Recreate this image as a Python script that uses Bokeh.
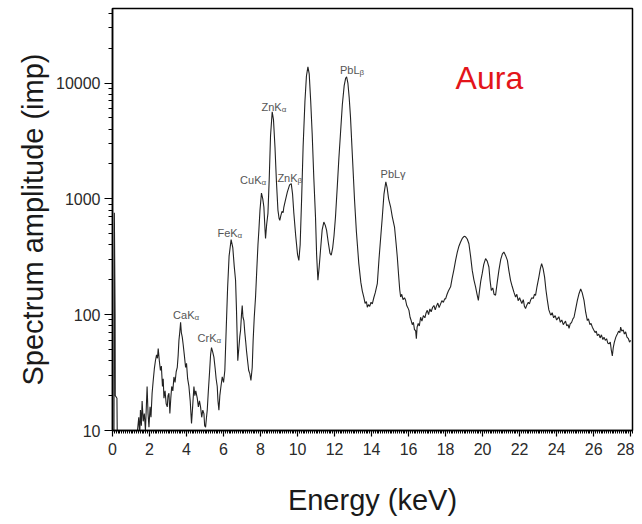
from bokeh.plotting import figure
from bokeh.models import Range1d, FixedTicker, NumeralTickFormatter, ColumnDataSource
from bokeh.core.properties import value
from bokeh.embed import file_html
from bokeh.resources import INLINE

# ---- spectrum data (energy keV, counts) ----
energy = [0.0, 0.08, 0.1, 0.14, 0.15, 0.24, 0.26, 1.3,
          1.35, 1.42, 1.47, 1.51, 1.56, 1.6, 1.66, 1.72, 1.78, 1.87, 1.92, 1.97, 2.03, 2.08, 2.14, 2.2, 2.26, 2.32,
          2.38, 2.43, 2.47, 2.53, 2.59, 2.64, 2.7, 2.74, 2.78, 2.84, 2.9, 2.96, 3.0, 3.05, 3.1, 3.15, 3.2, 3.26,
          3.32, 3.38, 3.44, 3.5, 3.55, 3.59, 3.64, 3.68, 3.72, 3.77, 3.82, 3.88, 3.95, 4.0, 4.06, 4.13, 4.2, 4.27,
          4.33, 4.4, 4.45, 4.5, 4.58, 4.64, 4.7, 4.76, 4.82, 4.88, 4.94, 4.98, 5.03, 5.08, 5.12, 5.18, 5.24, 5.3,
          5.35, 5.41, 5.48, 5.55, 5.6, 5.66, 5.7, 5.75, 5.8, 5.86, 5.93, 6.0, 6.07, 6.15, 6.22, 6.3, 6.41, 6.5,
          6.58, 6.65, 6.7, 6.77, 6.82, 6.88, 6.92, 6.97, 7.01, 7.05, 7.1, 7.15, 7.2, 7.24, 7.3, 7.36, 7.42, 7.48,
          7.55, 7.6, 7.66, 7.73, 7.8, 7.86, 7.91, 7.97, 8.05, 8.12, 8.18, 8.24, 8.27, 8.33, 8.4, 8.47, 8.54, 8.63,
          8.7, 8.78, 8.86, 8.94, 9.0, 9.04, 9.1, 9.16, 9.22, 9.26, 9.33, 9.45, 9.57, 9.66, 9.73, 9.8, 9.9, 10.0,
          10.07, 10.14, 10.22, 10.3, 10.4, 10.48, 10.56, 10.63, 10.71, 10.79, 10.88, 10.97, 11.03, 11.1, 11.17,
          11.24, 11.33, 11.42, 11.5, 11.57, 11.66, 11.75, 11.82, 11.9, 11.97, 12.05, 12.15, 12.23, 12.32, 12.42,
          12.52, 12.6, 12.65, 12.72, 12.79, 12.86, 12.96, 13.08, 13.18, 13.31, 13.42, 13.5, 13.58, 13.65, 13.72,
          13.77, 13.83, 13.9, 13.97, 14.04, 14.12, 14.2, 14.31, 14.4, 14.5, 14.58, 14.67, 14.77, 14.84, 14.92,
          15.03, 15.12, 15.24, 15.32, 15.39, 15.46, 15.52, 15.57, 15.63, 15.7, 15.78, 15.84, 15.9, 15.96, 16.02,
          16.08, 16.14, 16.2, 16.26, 16.32, 16.38, 16.42, 16.46, 16.52, 16.58, 16.65, 16.72, 16.8, 16.88, 16.95,
          17.01, 17.08, 17.15, 17.22, 17.3, 17.37, 17.44, 17.5, 17.58, 17.65, 17.73, 17.8, 17.88, 17.95, 18.0,
          18.08, 18.15, 18.22, 18.27, 18.35, 18.45, 18.54, 18.63, 18.72, 18.81, 18.9, 19.0, 19.08, 19.17, 19.26,
          19.35, 19.44, 19.53, 19.62, 19.7, 19.77, 19.83, 19.9, 19.98, 20.06, 20.16, 20.25, 20.34, 20.4, 20.47,
          20.55, 20.62, 20.7, 20.79, 20.88, 20.98, 21.07, 21.15, 21.24, 21.34, 21.42, 21.51, 21.6, 21.7, 21.78,
          21.85, 21.92, 22.0, 22.05, 22.12, 22.2, 22.26, 22.32, 22.4, 22.47, 22.53, 22.59, 22.66, 22.74, 22.8,
          22.86, 22.94, 23.04, 23.12, 23.19, 23.27, 23.35, 23.42, 23.5, 23.58, 23.68, 23.76, 23.84, 23.92, 24.0,
          24.04, 24.12, 24.2, 24.28, 24.36, 24.4, 24.48, 24.55, 24.62, 24.67, 24.74, 24.8, 24.88, 24.94, 25.03,
          25.12, 25.2, 25.3, 25.38, 25.48, 25.57, 25.66, 25.72, 25.8, 25.86, 25.93, 26.0, 26.08, 26.14, 26.2,
          26.28, 26.35, 26.42, 26.5, 26.56, 26.63, 26.7, 26.76, 26.83, 26.9, 26.95, 27.01, 27.06, 27.12, 27.2,
          27.28, 27.35, 27.42, 27.46, 27.52, 27.6, 27.66, 27.73, 27.8, 27.88, 27.94, 28.0]
counts = [8, 8, 760, 100, 20, 19, 8, 8,
          10, 13, 9, 15, 11, 18, 12, 14, 10, 24, 14, 10.7, 16, 13, 21, 27, 34, 40,
          45, 42, 51, 40, 33, 36, 24, 28, 19, 22, 17, 16, 20, 21, 14, 19, 24, 22,
          29, 26, 32, 35, 45, 60, 72, 86, 70, 64, 55, 45, 35, 38, 28, 24, 18, 11.5,
          16, 24, 20, 22, 19, 16, 18, 15.9, 13, 15, 14, 11, 10.7, 13, 15, 22, 31, 45,
          52, 48, 43, 34, 28, 24, 18, 15, 20, 24, 29, 26, 33, 80, 170, 320, 445, 380,
          260, 198, 110, 40, 50, 65, 73, 100, 120, 95, 89, 70, 58, 49, 40, 33, 31, 27,
          35, 60, 95, 142, 250, 400, 535, 800, 1122, 1000, 850, 550, 454, 600, 750, 1500, 3500, 5640,
          4800, 2800, 1400, 800, 680, 653, 720, 780, 760, 850, 950, 1150, 1320, 1355, 1100, 750, 480, 330,
          294, 400, 1000, 2800, 7000, 11500, 13800, 12000, 7000, 3660, 1500, 697, 330, 198, 260,
          360, 540, 631, 590, 535, 420, 340, 326, 380, 480, 697, 1300, 2200, 3660, 6500,
          9500, 11000, 11330, 10000, 7500, 5100, 2400, 973, 520, 276, 190, 160, 142, 125, 130,
          116, 122, 118, 128, 124, 140, 155, 185, 300, 480, 697, 1100, 1400, 1250, 1000,
          850, 700, 571, 420, 315, 220, 165, 142, 150, 135, 140, 133, 120, 115, 109,
          95, 89, 82, 86, 74, 73, 62, 78, 84, 80, 95, 88, 98, 94, 104,
          109, 100, 112, 106, 116, 120, 110, 118, 126, 115, 124, 132, 128, 137, 137,
          150, 160, 168, 174, 205, 245, 294, 345, 390, 424, 455, 475, 470, 450, 410,
          320, 241, 200, 174, 150, 133, 160, 195, 227, 270, 305, 290, 258, 200, 162,
          170, 150, 147, 190, 241, 300, 335, 347, 325, 294, 240, 198, 175, 155, 142,
          150, 132, 140, 133, 125, 135, 118, 113, 122, 128, 124, 133, 140, 138, 150,
          147, 175, 211, 250, 276, 250, 211, 165, 133, 110, 99, 104, 94, 98, 90,
          92, 96, 86, 90, 82, 84, 88, 80, 82, 76, 84, 85, 92, 95, 112,
          133, 150, 167, 155, 133, 105, 89, 92, 82, 84, 78, 74, 70, 72, 66,
          68, 63, 67, 61, 64, 60, 62, 57, 56, 58, 50, 44, 52, 58, 64,
          68, 72, 70, 78, 72, 74, 68, 71, 64, 62, 58, 60]

# ---- peak labels ----
peak_names = ["CaK", "CrK", "FeK", "CuK", "ZnK", "ZnK", "PbL", "PbLγ"]
peak_subs = ["α", "α", "α", "α", "α", "β", "β", ""]
peak_energy = [4.43, 5.62, 6.76, 8.05, 9.14, 10.0, 13.35, 15.84]
peak_level = [98.6, 62.4, 505, 1450, 6190, 1507, 12900, 1634]

x_major = list(range(0, 29, 2))
y_major = [10, 100, 1000, 10000]

p = figure(width=634, height=522, y_axis_type="log", output_backend="svg", toolbar_location=None,
           x_range=Range1d(0, 28.1), y_range=Range1d(10, 44000),
           min_border_left=112, min_border_right=2, min_border_top=8, min_border_bottom=92)
p.background_fill_color = "white"
p.border_fill_color = "white"
p.outline_line_color = "black"
p.outline_line_width = 1.5
p.xgrid.visible = False
p.ygrid.visible = False

p.line(energy, counts, line_color="#222222", line_width=1.1)

x_minor = [i / 10 for i in range(0, 282)]
y_minor = [m * 10 ** d for d in range(1, 5) for m in range(2, 10)]
p.xaxis.ticker = FixedTicker(ticks=x_major, minor_ticks=x_minor)
p.yaxis.ticker = FixedTicker(ticks=y_major, minor_ticks=y_minor)
p.yaxis.formatter = NumeralTickFormatter(format="0")

for ax in (p.xaxis[0], p.yaxis[0]):
    ax.axis_line_color = "black"
    ax.axis_line_width = 1.5
    ax.major_tick_line_color = "black"
    ax.minor_tick_line_color = "black"
    ax.major_tick_line_width = 1.2
    ax.major_tick_in = 0
    ax.minor_tick_in = 0
    ax.major_label_text_font = "Liberation Sans"
    ax.major_label_text_font_size = "16px"
    ax.major_label_text_color = "#2a2a2a"
    ax.axis_label_text_font = "Liberation Sans"
    ax.axis_label_text_font_size = "29px"
    ax.axis_label_text_font_style = "normal"
    ax.axis_label_text_color = "#1a1a1a"

p.xaxis.major_tick_out = 6
p.xaxis.minor_tick_out = 3
p.yaxis.major_tick_out = 8
p.yaxis.minor_tick_out = 4
p.xaxis.major_label_standoff = 6
p.yaxis.major_label_standoff = 4
p.xaxis.axis_label = "Energy (keV)"
p.yaxis.axis_label = "Spectrum amplitude (imp)"
p.xaxis.axis_label_standoff = 26
p.yaxis.axis_label_standoff = 4

src = ColumnDataSource(dict(x=peak_energy, y=peak_level, name=peak_names, sub=peak_subs))
p.text(x="x", y="y", text="name", source=src, text_font=value("Liberation Sans"),
       text_font_size="11px", text_color="#555555", text_align="right", text_baseline="alphabetic")
p.text(x="x", y="y", text="sub", source=src, text_font=value("Liberation Sans"),
       text_font_size="8px", text_color="#555555", text_align="left", text_baseline="alphabetic",
       y_offset=2)

p.text(x=[18.54], y=[11000], text=["Aura"], text_font=value("Liberation Sans"),
       text_font_size="32px", text_color="#e3151a", text_align="left", text_baseline="alphabetic")

open("out.html", "w").write(file_html(p, INLINE))
